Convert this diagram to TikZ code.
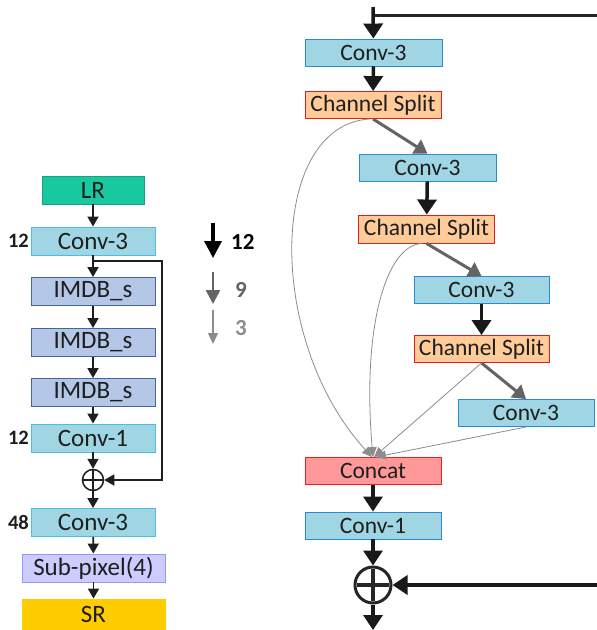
\documentclass[tikz,border=0pt]{standalone}
\usepackage{fontspec}
\setmainfont{Carlito}
\usetikzlibrary{arrows.meta,calc}
\definecolor{lrfill}{RGB}{24,200,160}
\definecolor{lrdraw}{RGB}{30,160,120}
\definecolor{convfill}{RGB}{160,214,228}
\definecolor{convdrawL}{RGB}{75,190,225}
\definecolor{convdrawR}{RGB}{40,140,210}
\definecolor{imdbfill}{RGB}{180,199,231}
\definecolor{imdbdraw}{RGB}{70,100,165}
\definecolor{subfill}{RGB}{204,204,255}
\definecolor{subdraw}{RGB}{150,150,255}
\definecolor{srfill}{RGB}{255,204,0}
\definecolor{csfill}{RGB}{255,204,153}
\definecolor{csdraw}{RGB}{225,30,30}
\definecolor{catfill}{RGB}{255,153,153}
\definecolor{catdraw}{RGB}{240,30,30}
\definecolor{txt}{RGB}{30,30,30}
\definecolor{midgray}{RGB}{100,100,100}
\definecolor{lightgray}{RGB}{140,140,140}
\tikzset{
  lbox/.style={draw, line width=0.9pt, minimum width=124pt, minimum height=28pt, inner sep=0pt, text=txt, font=\fontsize{25}{27}\selectfont},
  rbox/.style={draw, line width=0.9pt, minimum width=136pt, minimum height=27pt, inner sep=0pt, text=txt, font=\fontsize{23.5}{26}\selectfont},
  larrow/.style={draw=txt, line width=1.8pt, -{Triangle[length=10pt,width=11pt]}},
  barrow/.style={draw=black!90, line width=3.5pt, -{Triangle[length=15pt,width=19pt]}},
  garrow/.style={draw=midgray, line width=3pt, -{Triangle[length=13pt,width=16pt]}},
  tarrow/.style={draw=lightgray, line width=0.8pt, -{Triangle[length=10pt,width=9pt]}},
  num/.style={font=\fontsize{20.5}{22}\selectfont\bfseries, text=txt, inner sep=0pt},
}
\begin{document}
\begin{tikzpicture}[x=1pt,y=-1pt]
\useasboundingbox (0,0) rectangle (597,630);
% ---------- left column ----------
\node[lbox, fill=lrfill, draw=lrdraw, minimum width=102pt] (lr) at (93,190) {LR};
\node[lbox, fill=convfill, draw=convdrawL] (c3a) at (93,241) {Conv-3};
\node[lbox, fill=imdbfill, draw=imdbdraw] (im1) at (93,291.5) {IMDB\_s};
\node[lbox, fill=imdbfill, draw=imdbdraw] (im2) at (93,342.5) {IMDB\_s};
\node[lbox, fill=imdbfill, draw=imdbdraw] (im3) at (93,392.5) {IMDB\_s};
\node[lbox, fill=convfill, draw=convdrawL] (c1) at (93,438) {Conv-1};
\node[circle, draw=txt, line width=1.5pt, minimum size=21pt, inner sep=0pt] (addL) at (93,480) {};
\draw[txt, line width=2pt] ($(addL.center)+(-10,0)$) -- ($(addL.center)+(10,0)$)
  ($(addL.center)+(0,-10)$) -- ($(addL.center)+(0,10)$);
\node[lbox, fill=convfill, draw=convdrawL] (c3b) at (93,522.5) {Conv-3};
\node[lbox, fill=subfill, draw=subdraw, minimum width=143pt] (sub) at (93.5,568) {Sub-pixel(4)};
\node[lbox, fill=srfill, draw=srfill, minimum width=143pt, minimum height=31pt] (sr) at (93.5,614.5) {SR};
\node[num, anchor=east] (n1) at (29,241) {12};
\node[num, anchor=east] (n2) at (29,438) {12};
\node[num, anchor=east] (n3) at (29,522) {48};
\draw[larrow] (lr) -- (c3a);
\draw[larrow] (c3a) -- (im1);
\draw[larrow] (im1) -- (im2);
\draw[larrow] (im2) -- (im3);
\draw[larrow] (im3) -- (c1);
\draw[larrow] (c1) -- (addL);
\draw[larrow] (addL) -- (c3b);
\draw[larrow] (c3b) -- (sub);
\draw[larrow] (sub) -- (sr);
\coordinate (skipA) at (93,261);
\coordinate (skipB) at (162,261);
\coordinate (skipC) at (162,480);
\draw[larrow] (skipA) -- (skipB) -- (skipC) -- (addL.east);
% ---------- legend ----------
\coordinate (lg1a) at (213,223);
\coordinate (lg1b) at (213,258);
\coordinate (lg2a) at (213,272);
\coordinate (lg2b) at (213,304);
\coordinate (lg3a) at (213,310);
\coordinate (lg3b) at (213,344);
\draw[draw=black, line width=3.5pt, -{Triangle[length=17pt,width=17pt]}] (lg1a) -- (lg1b);
\draw[draw=midgray, line width=2.6pt, -{Triangle[length=14pt,width=14pt]}] (lg2a) -- (lg2b);
\draw[draw=lightgray, line width=1.1pt, -{Triangle[length=11pt,width=10pt]}] (lg3a) -- (lg3b);
\node[num, text=black, font=\fontsize{23}{25}\selectfont\bfseries, anchor=west] (lt1) at (231,242) {12};
\node[num, text=midgray, font=\fontsize{23}{25}\selectfont\bfseries, anchor=west] (lt2) at (235,290) {9};
\node[num, text=lightgray, font=\fontsize{23}{25}\selectfont\bfseries, anchor=west] (lt3) at (235,328) {3};
% ---------- right block ----------
\node[rbox, fill=convfill, draw=convdrawR, minimum width=137pt] (rc1) at (373.5,52.5) {Conv-3};
\node[rbox, fill=csfill, draw=csdraw] (cs1) at (373,105) {Channel Split};
\node[rbox, fill=convfill, draw=convdrawR, minimum width=137pt] (rc2) at (427.5,167.5) {Conv-3};
\node[rbox, fill=csfill, draw=csdraw, minimum height=28pt] (cs2) at (426.5,229) {Channel Split};
\node[rbox, fill=convfill, draw=convdrawR, minimum width=135pt] (rc3) at (481.5,290) {Conv-3};
\node[rbox, fill=csfill, draw=csdraw, minimum width=135pt] (cs3) at (481.5,349) {Channel Split};
\node[rbox, fill=convfill, draw=convdrawR] (rc4) at (526,413) {Conv-3};
\node[rbox, fill=catfill, draw=catdraw] (cat) at (373,471) {Concat};
\node[rbox, fill=convfill, draw=convdrawR] (rc5) at (373,525.5) {Conv-1};
\node[circle, draw=black!85, line width=3pt, minimum size=36pt, inner sep=0pt] (addR) at (373,585) {};
\draw[black!85, line width=4.5pt] ($(addR.center)+(-16,0)$) -- ($(addR.center)+(16,0)$)
  ($(addR.center)+(0,-16)$) -- ($(addR.center)+(0,16)$);
\coordinate (topA) at (373,7);
\coordinate (topB) at (373,15);
\coordinate (topC) at (597,15);
\coordinate (rin) at (597,585);
\coordinate (rout) at (373,630);
\draw[draw=black!85, line width=3pt] (topB) -- (topC);
\draw[barrow] (topA) -- (rc1);
\draw[barrow] (rc1) -- (cs1);
\draw[barrow] (rc2) -- (cs2);
\draw[barrow] (rc3) -- (cs3);
\draw[barrow] (cat) -- (rc5);
\draw[barrow] (rc5) -- (addR);
\draw[barrow] (addR) -- (rout);
\draw[barrow] (rin) -- (addR.east);
\draw[garrow] (cs1.south) -- (rc2.north);
\draw[garrow] (cs2.south) -- (rc3.north);
\draw[garrow] (cs3.south) -- (rc4.north);
\draw[tarrow] ($(cs1.south)+(-3,0)$) .. controls (268,125) and (265,340) .. ($(cat.north)+(-1,0)$);
\draw[tarrow] ($(cs2.south)+(-5,0)$) .. controls (385,246) and (362,330) .. ($(cat.north)+(0,0)$);
\draw[tarrow] (cs3.south) -- ($(cat.north)+(1,0)$);
\draw[tarrow] (rc4.south) -- ($(cat.north)+(3,0)$);
\end{tikzpicture}
\end{document}
